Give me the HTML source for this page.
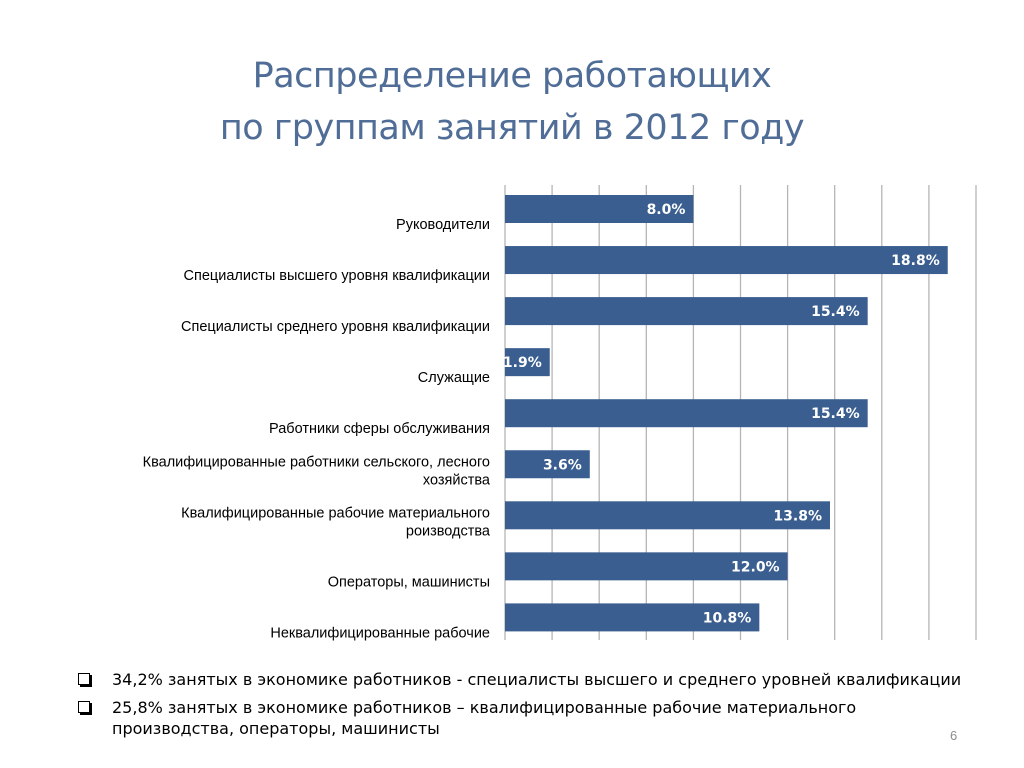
<!DOCTYPE html>
<html><head><meta charset="utf-8">
<style>
body{margin:0;background:#fff;width:1024px;height:768px;overflow:hidden;font-family:"Liberation Sans",sans-serif}
.title{position:absolute;left:0;width:1024px;top:50px;text-align:center;color:#4f6d96;font-size:35px;line-height:52px;font-family:"DejaVu Sans","Liberation Sans",sans-serif;font-weight:normal;letter-spacing:-0.5px}
.bul{position:absolute;left:78px;font-size:16px;color:#000;line-height:21px;font-family:"DejaVu Sans","Liberation Sans",sans-serif}
.bul .box{position:absolute;left:0;top:4px;width:10px;height:10px;border:1.5px solid #000;box-shadow:2px 2px 0 #000}
.bul .t{margin-left:34px;display:block}
</style></head><body>
<div class="title">Распределение работающих<br>по группам занятий в 2012 году</div>
<svg id="chart" width="1024" height="768" style="position:absolute;left:0;top:0"></svg>
<div class="bul" style="top:669px"><span class="box"></span><span class="t">34,2% занятых в экономике работников - специалисты высшего и среднего уровней квалификации</span></div>
<div class="bul" style="top:697px"><span class="box"></span><span class="t">25,8% занятых в экономике работников – квалифицированные рабочие материального<br>производства, операторы, машинисты</span></div>
<div style="position:absolute;left:950px;top:728px;color:#8c8c8c;font-size:13px">6</div>
<script>
const categories=[["Руководители"],["Специалисты высшего уровня квалификации"],["Специалисты среднего уровня квалификации"],["Служащие"],["Работники сферы обслуживания"],["Квалифицированные работники сельского, лесного","хозяйства"],["Квалифицированные рабочие материального","роизводства"],["Операторы, машинисты"],["Неквалифицированные рабочие"]];
const values=[8.0,18.8,15.4,1.9,15.4,3.6,13.8,12.0,10.8];
const gridTicks=[0,2,4,6,8,10,12,14,16,18,20];
const svg=document.getElementById('chart');
const NS='http://www.w3.org/2000/svg';
const x0=505,x1=976,xMax=20,yTop=195,pitch=51.05,bh=28;
const X=v=>x0+(x1-x0)*v/xMax;
const Y=i=>yTop+i*pitch;
function mk(t,a){const e=document.createElementNS(NS,t);for(const k in a)e.setAttribute(k,a[k]);svg.appendChild(e);return e;}
gridTicks.forEach(g=>{const l=mk('line',{x1:X(g),x2:X(g),y1:185,y2:640,stroke:'#b5b5b5','stroke-width':1.3});

});
values.forEach((v,i)=>{
const r=mk('rect',{x:x0,y:Y(i),width:X(v)-x0,height:bh,fill:'#3a5e8f'});


const t=mk('text',{x:X(v)-8,y:Y(i)+19,'text-anchor':'end',fill:'#fff','font-size':14,'font-weight':'bold','font-family':'DejaVu Sans, Liberation Sans, sans-serif'});
t.textContent=v.toFixed(1)+'%';


const lines=categories[i];
const c=Y(i)+bh/2;
const base=lines.length===1?c+20:c+2;
lines.forEach((s,j)=>{const lt=mk('text',{x:490,y:base+j*18,'text-anchor':'end',fill:'#000','font-size':14.5});
lt.textContent=s;

});
});
</script>
</body></html>
